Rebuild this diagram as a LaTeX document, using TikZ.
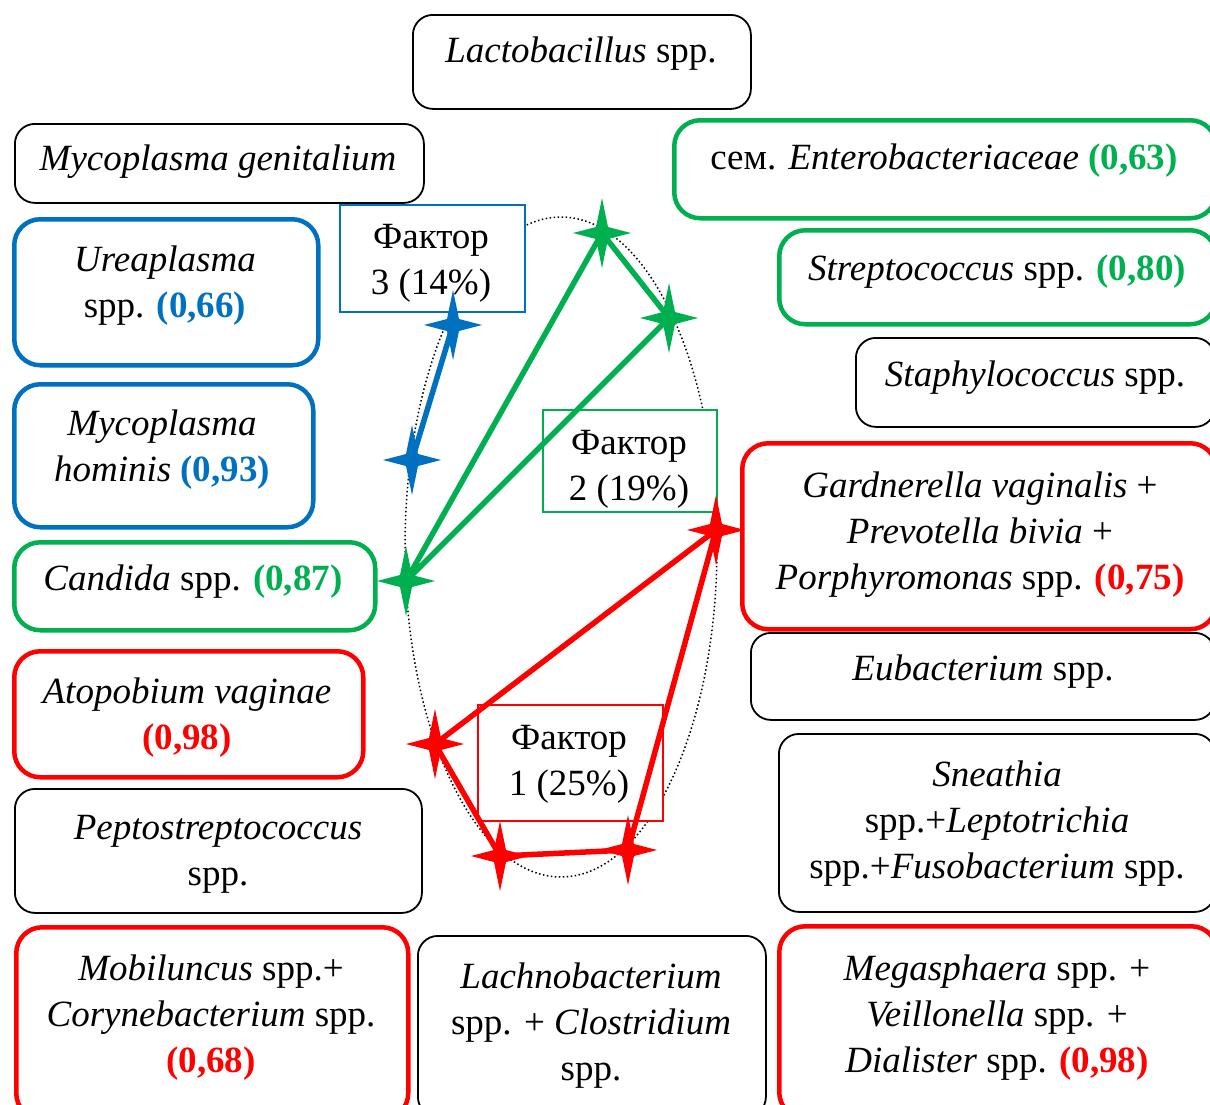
\documentclass[tikz,border=0pt]{standalone}
\usepackage{fontspec}
\setmainfont{Liberation Serif}
\definecolor{cblue}{HTML}{0070C0}
\definecolor{cgreen}{HTML}{00B050}
\definecolor{cred}{HTML}{FF0000}
\tikzset{
 bbox/.style={draw=black, line width=1.8pt, rounded corners=20pt, anchor=north west, inner sep=0pt},
 cbox/.style={draw=#1, line width=4.5pt, rounded corners=26pt, anchor=north west, inner sep=0pt},
 fbox/.style={draw=#1, line width=1.5pt, fill=white, anchor=north west, inner sep=0pt},
 txt/.style={align=center, inner sep=0pt, font=\fontsize{37}{46}\selectfont},
 link/.style={draw=#1, line width=5.5pt, line join=round},
}
\newcommand\fourstar[2]{\fill[#2, shift={(#1)}] (0,-35) -- (6,-6) -- (29,0) -- (6,6) -- (0,35) -- (-6,6) -- (-29,0) -- (-6,-6) -- cycle;}
\begin{document}
\begin{tikzpicture}[x=1pt,y=-1pt]
\useasboundingbox (0,0) rectangle (1210,1104);
% boxes
\node[bbox, minimum width=338pt, minimum height=94pt] (lacto) at (412,14) {};
\node[bbox, minimum width=409pt, minimum height=79pt] (mgen) at (14,123) {};
\node[cbox=cblue, minimum width=304pt, minimum height=146pt] (urea) at (12,217) {};
\node[cbox=cblue, minimum width=299pt, minimum height=143pt] (mhom) at (12,382) {};
\node[cbox=cgreen, minimum width=361pt, minimum height=88pt] (cand) at (12,540) {};
\node[cbox=cred, minimum width=349pt, minimum height=126pt] (atop) at (12,649) {};
\node[bbox, minimum width=407pt, minimum height=124pt] (pept) at (14,788) {};
\node[cbox=cred, minimum width=392pt, minimum height=192pt] (mob) at (14,925) {};
\node[bbox, minimum width=348pt, minimum height=181pt] (lach) at (417,935) {};
\node[cbox=cred, minimum width=438pt, minimum height=192pt] (mega) at (777,924) {};
\node[cbox=cgreen, minimum width=542pt, minimum height=98pt] (ent) at (672,118) {};
\node[cbox=cgreen, minimum width=437pt, minimum height=94pt] (str) at (777,228) {};
\node[bbox, minimum width=359pt, minimum height=89pt] (sta) at (855,337) {};
\node[cbox=cred, minimum width=474pt, minimum height=186pt] (gar) at (740,441) {};
\node[bbox, minimum width=464pt, minimum height=87pt] (eub) at (750,632) {};
\node[bbox, minimum width=436pt, minimum height=178pt] (sne) at (778,733) {};
% ellipse
\draw[line width=1.5pt, dash pattern=on 1.5pt off 2.5pt] (561,547) ellipse [x radius=156pt, y radius=330pt];
% factor boxes
\node[fbox=cblue, minimum width=185pt, minimum height=107pt] (f3) at (339,204) {};
\node[fbox=cgreen, minimum width=174pt, minimum height=102pt] (f2) at (542,409) {};
\node[fbox=cred, minimum width=185pt, minimum height=116pt] (f1) at (477,704) {};
\node[txt] (f3T) at (431,263) {Фактор\\3 (14\%)};
\node[txt] (f2T) at (629,469) {Фактор\\2 (19\%)};
\node[txt] (f1T) at (569,764) {Фактор\\1 (25\%)};
% texts
\node[txt] (lactoT) at (581,54) {\textit{Lactobacillus} spp.};
\node[txt] (mgenT) at (218,162) {\textit{Mycoplasma genitalium}};
\node[txt] (ureaT) at (165,286) {\textit{Ureaplasma}\\spp. \textcolor{cblue}{\textbf{(0,66)}}};
\node[txt] (mhomT) at (162,450) {\textit{Mycoplasma}\\\textit{hominis} \textcolor{cblue}{\textbf{(0,93)}}};
\node[txt] (candT) at (193,582) {\textit{Candida} spp. \textcolor{cgreen}{\textbf{(0,87)}}};
\node[txt] (atopT) at (187,718) {\textit{Atopobium vaginae}\\\textcolor{cred}{\textbf{(0,98)}}};
\node[txt] (peptT) at (218,854) {\textit{Peptostreptococcus}\\spp.};
\node[txt] (mobT) at (211,1018) {\textit{Mobiluncus} spp.+\\\textit{Corynebacterium} spp.\\\textcolor{cred}{\textbf{(0,68)}}};
\node[txt] (lachT) at (591,1026) {\textit{Lachnobacterium}\\spp. + \textit{Clostridium}\\spp.};
\node[txt] (megaT) at (997,1018) {\textit{Megasphaera} spp. +\\\textit{Veillonella} spp. +\\\textit{Dialister} spp. \textcolor{cred}{\textbf{(0,98)}}};
\node[txt] (entT) at (944,161) {сем. \textit{Enterobacteriaceae} \textcolor{cgreen}{\textbf{(0,63)}}};
\node[txt] (strT) at (997,272) {\textit{Streptococcus} spp. \textcolor{cgreen}{\textbf{(0,80)}}};
\node[txt] (staT) at (1035,378) {\textit{Staphylococcus} spp.};
\node[txt] (garT) at (980,535) {\textit{Gardnerella vaginalis} +\\\textit{Prevotella bivia} +\\\textit{Porphyromonas} spp. \textcolor{cred}{\textbf{(0,75)}}};
\node[txt] (eubT) at (983,672) {\textit{Eubacterium} spp.};
\node[txt] (sneT) at (997,824) {\textit{Sneathia}\\spp.+\textit{Leptotrichia}\\spp.+\textit{Fusobacterium} spp.};
% star points
\coordinate (b1) at (453,325);
\coordinate (b2) at (412,460);
\coordinate (g1) at (602,233);
\coordinate (g2) at (669,318);
\coordinate (g3) at (406,581);
\coordinate (r1) at (716,530);
\coordinate (r2) at (435,744);
\coordinate (r3) at (500,856);
\coordinate (r4) at (628,850);
% links
\draw[link=cblue] (b2) -- (b1);
\draw[link=cgreen] (g3) -- (g1) -- (g2) -- cycle;
\draw[link=cred] (r1) -- (r2) -- (r3) -- (r4) -- cycle;
% stars
\fourstar{b1}{cblue}\fourstar{b2}{cblue}
\fourstar{g1}{cgreen}\fourstar{g2}{cgreen}\fourstar{g3}{cgreen}
\fourstar{r1}{cred}\fourstar{r2}{cred}\fourstar{r3}{cred}\fourstar{r4}{cred}
\end{tikzpicture}
\end{document}
